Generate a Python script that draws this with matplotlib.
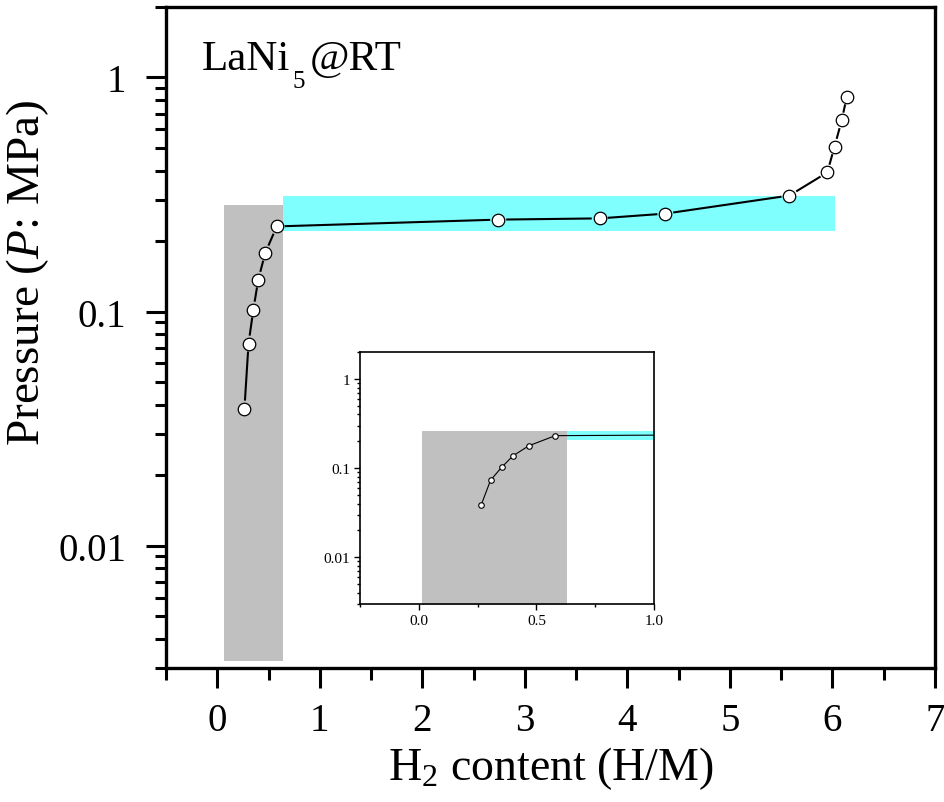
import numpy as np
import matplotlib
matplotlib.use("Agg")
import matplotlib.pyplot as plt
from matplotlib.ticker import FixedLocator, FixedFormatter, LogLocator, NullFormatter, MultipleLocator

# ---- data ----
h_content = [0.265, 0.305, 0.352, 0.40, 0.468, 0.58, 2.74, 3.73, 4.37, 5.58, 5.95, 6.02, 6.09, 6.14]
pressure = [0.0385, 0.073, 0.102, 0.137, 0.178, 0.231, 0.247, 0.250, 0.262, 0.313, 0.393, 0.507, 0.655, 0.829]

# shaded regions (x0, x1, y0, y1)
gray_region = [0.07, 0.645, 0.0032, 0.286]
cyan_region = [0.645, 6.02, 0.22, 0.313]
inset_gray_region = [0.013, 0.63, 0.001, 0.26]
inset_cyan_region = [0.63, 1.2, 0.206, 0.26]

x_ticks = [0, 1, 2, 3, 4, 5, 6, 7]
y_ticks = [0.01, 0.1, 1]
y_ticklabels = ["0.01", "0.1", "1"]
inset_x_ticks = [0.0, 0.5, 1.0]
inset_x_ticklabels = ["0.0", "0.5", "1.0"]

plt.rcParams['font.family'] = ['Liberation Serif', 'DejaVu Serif']
plt.rcParams['mathtext.fontset'] = 'custom'
plt.rcParams['mathtext.rm'] = 'Liberation Serif'
plt.rcParams['mathtext.it'] = 'Liberation Serif:italic'
plt.rcParams['mathtext.bf'] = 'Liberation Serif:bold'

fig = plt.figure(figsize=(9.44, 8.03), dpi=100)
W, H = 944, 803
ax = fig.add_axes([166/W, 1 - 669/H, 769/W, 661/H])
ax.set_yscale('log')
ax.set_xlim(-0.5, 7.0)
ax.set_ylim(0.003, 2.0)

def add_rect(a, r, color):
    a.fill_between([r[0], r[1]], [r[2], r[2]], [r[3], r[3]], color=color, lw=0, zorder=1)

add_rect(ax, gray_region, '#c0c0c0')
add_rect(ax, cyan_region, '#80ffff')

def gapped_line(a, xs, ys, gap_px, **kw):
    pts = a.transData.transform(np.column_stack([xs, ys]))
    inv = a.transData.inverted()
    for p0, p1 in zip(pts[:-1], pts[1:]):
        d = p1 - p0
        L = np.hypot(*d)
        if L <= 2 * gap_px:
            continue
        u = d / L
        q = inv.transform(np.vstack([p0 + u * gap_px, p1 - u * gap_px]))
        a.plot(q[:, 0], q[:, 1], **kw)

gapped_line(ax, h_content, pressure, 9, color='black', lw=1.5, zorder=2)
ax.plot(h_content, pressure, ls='none', marker='o', ms=9, mfc='white', mec='black', mew=0.9, zorder=3)

for s in ax.spines.values():
    s.set_linewidth(2.4)
ax.xaxis.set_major_locator(FixedLocator(x_ticks))
ax.xaxis.set_minor_locator(MultipleLocator(0.5))
ax.yaxis.set_major_locator(FixedLocator(y_ticks))
ax.yaxis.set_major_formatter(FixedFormatter(y_ticklabels))
ax.yaxis.set_minor_locator(LogLocator(base=10, subs=np.arange(2, 10)))
ax.yaxis.set_minor_formatter(NullFormatter())
ax.tick_params(which='both', direction='out', width=2.2, top=False, right=False, labelsize=28)
ax.tick_params(axis='x', which='major', length=14.5, pad=10)
ax.tick_params(axis='y', which='major', length=14.5, pad=14)
ax.tick_params(axis='x', which='minor', length=8.5)
ax.tick_params(axis='y', which='minor', length=8)
ax.set_xlabel(r"H$_2$ content (H/M)", fontsize=33)
ax.set_ylabel(r"Pressure ($P$: MPa)", fontsize=34)
ax.xaxis.set_label_coords(0.5, -0.115)
ax.yaxis.set_label_coords(-0.15, 0.60)

# LaNi5@RT with a low subscript
renderer = fig.canvas.get_renderer()
base_y = 1 - 70/H
t1 = fig.text(202/W, base_y, "LaNi", fontsize=31, va='baseline', ha='left')
e1 = t1.get_window_extent(renderer)
t2 = fig.text((e1.x1 + 2)/W, 1 - 88/H, "5", fontsize=18, va='baseline', ha='left')
e2 = t2.get_window_extent(renderer)
fig.text((e2.x1 + 5)/W, base_y, "@RT", fontsize=31, va='baseline', ha='left')

# ---- inset ----
axi = fig.add_axes([360/W, 1 - 605/H, 294/W, 252/H])
axi.set_yscale('log')
axi.set_xlim(-0.25, 1.0)
axi.set_ylim(0.003, 2.0)
add_rect(axi, inset_gray_region, '#c0c0c0')
add_rect(axi, inset_cyan_region, '#80ffff')
axi.plot(h_content, pressure, color='black', lw=0.8, marker='o', ms=4, mfc='white', mec='black', mew=0.8, zorder=3)
for s in axi.spines.values():
    s.set_linewidth(1.2)
axi.xaxis.set_major_locator(FixedLocator(inset_x_ticks))
axi.xaxis.set_major_formatter(FixedFormatter(inset_x_ticklabels))
axi.xaxis.set_minor_locator(MultipleLocator(0.25))
axi.yaxis.set_major_locator(FixedLocator(y_ticks))
axi.yaxis.set_major_formatter(FixedFormatter(y_ticklabels))
axi.yaxis.set_minor_locator(LogLocator(base=10, subs=np.arange(2, 10)))
axi.yaxis.set_minor_formatter(NullFormatter())
axi.tick_params(which='both', direction='out', width=1.0, top=False, right=False, labelsize=11, pad=3)
axi.tick_params(which='major', length=4)
axi.tick_params(which='minor', length=2.5)

fig.savefig("out.png", dpi=100)
